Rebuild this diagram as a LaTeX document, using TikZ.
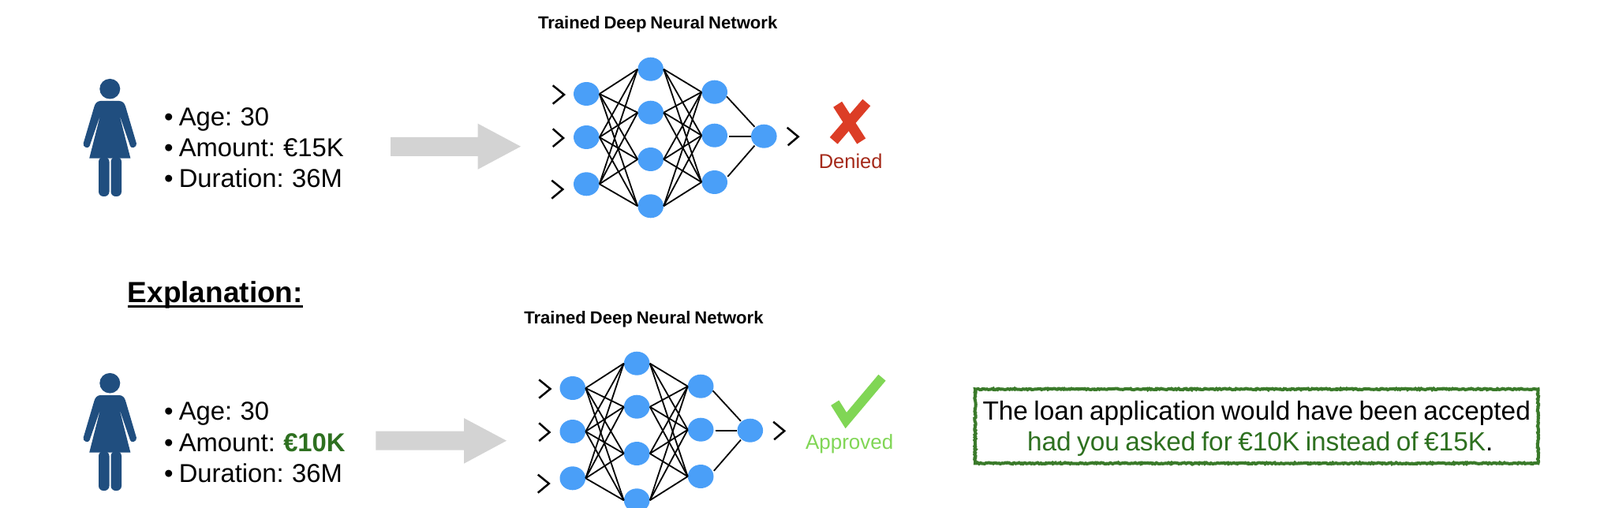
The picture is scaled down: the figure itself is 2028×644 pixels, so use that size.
\documentclass[tikz,border=0pt]{standalone}
\usepackage{fontspec}
\setmainfont[WordSpace=0.8]{Liberation Sans}
\usetikzlibrary{shapes.geometric,decorations.pathmorphing}
\definecolor{netblue}{HTML}{4A9FF8}
\definecolor{personblue}{HTML}{204E7F}
\definecolor{arrowgrey}{HTML}{D3D3D3}
\definecolor{crossred}{HTML}{DC3D26}
\definecolor{deniedred}{HTML}{A52A1A}
\definecolor{tickgreen}{HTML}{80D655}
\definecolor{darkgreen}{HTML}{2E7020}
\definecolor{boxgreen}{HTML}{3A7A2A}
\newcommand{\fsz}[1]{\fontsize{#1}{#1}\selectfont}
\tikzset{
  neuron/.style={ellipse,fill=netblue,inner sep=0pt,minimum width=32.6pt,minimum height=30pt},
  syn/.style={black,line width=1.8pt},
  chev/.style={black,line width=2.5pt,miter limit=10},
  txt/.style={anchor=base west,inner sep=0pt,outer sep=0pt},
  nettitle/.style={txt,font=\fsz{22.1}\bfseries},
  factline/.style={txt,font=\fsz{32.8}},
  bigarrow/.style={fill=arrowgrey,draw=none},
  person/.pic={
    \fill[personblue] (139.3,112.7) ellipse [x radius=13pt,y radius=12.8pt];
    \fill[personblue] (127.4,128) -- (151.2,128) .. controls (155,128) and (158,131) .. (159.1,135)
      -- (172.9,181.7) .. controls (174,187) and (166,189) .. (165,185)
      -- (151.2,145) -- (165.4,200.7) -- (113.2,200.7) -- (127.4,145) -- (113.6,185)
      .. controls (112.5,189) and (104.5,187) .. (105.7,181.7)
      -- (119.5,135) .. controls (120.6,131) and (123.6,128) .. (127.4,128) -- cycle;
    \fill[personblue,rounded corners=6pt] (125,199) -- (138.5,199) -- (138.5,249) -- (125,249) -- cycle;
    \fill[personblue,rounded corners=6pt] (140.5,199) -- (154,199) -- (154,249) -- (140.5,249) -- cycle;
  }
}
\newcommand{\drawnet}[1]{%
  \node[neuron] (#1a1) at (743.3,119) {};
  \node[neuron] (#1a2) at (743.3,174) {};
  \node[neuron] (#1a3) at (743.3,233.3) {};
  \node[neuron] (#1b1) at (824.7,87.7) {};
  \node[neuron] (#1b2) at (824.7,142.7) {};
  \node[neuron] (#1b3) at (824.7,202) {};
  \node[neuron] (#1b4) at (824.7,261.3) {};
  \node[neuron] (#1c1) at (905.7,116.7) {};
  \node[neuron] (#1c2) at (905.7,171.7) {};
  \node[neuron] (#1c3) at (905.7,231) {};
  \node[neuron] (#1d) at (968.3,172.7) {};
  \foreach \i in {1,2,3}{\foreach \j in {1,2,3,4}{
    \draw[syn] (#1a\i.east) -- (#1b\j.west);
    \draw[syn] (#1b\j.east) -- (#1c\i.west);
  }}
  \draw[syn,shorten >=1pt] (#1c1.-20) -- (#1d.135);
  \draw[syn,shorten <=2pt,yshift=1pt] (#1c2.east |- #1d.west) -- (#1d.west);
  \draw[syn,shorten >=1pt,shorten <=2pt] (#1c3.20) -- (#1d.-135);
  \draw[chev] (700.7,108.3) -- (715,120) -- (700.7,131.7);
  \draw[chev] (700.7,163.3) -- (714,175) -- (700.7,186);
  \draw[chev] (699.3,228.7) -- (713.3,240) -- (699.3,251.7);
  \draw[chev] (997.7,161.7) -- (1011.7,173.3) -- (998.7,184.3);
}
\begin{document}
\begin{tikzpicture}[x=1pt,y=-1pt]
\useasboundingbox (0,0) rectangle (2028,644);
\clip (0,0) rectangle (2028,644);
\fill[white] (0,0) rectangle (2028,644);

% top row
\pic {person};
\node[factline] (age1) at (208,159.3) {• Age: 30};
\node[factline] (amount1) at (208,198.7) {• Amount: €15K};
\node[factline] (dur1) at (208,237.3) {• Duration: 36M};
\fill[bigarrow] (495,174) -- (605.7,174) -- (605.7,156.7) -- (660,185.7) -- (605.7,214.7) -- (605.7,198) -- (495,198) -- cycle;
\node[nettitle] (title1) at (682,36.7) {Trained Deep Neural Network};
\drawnet{p}
\draw[crossred,line width=13pt] (1061.7,132.3) -- (1091.7,179);
\draw[crossred,line width=13pt] (1098.3,130) -- (1056.7,178.3);
\node[txt,font=\fsz{25.5},text=deniedred] (denied) at (1037.8,213.3) {Denied};

% explanation
\node[txt,font=\fsz{37}\bfseries] (expl) at (161.8,383.3) {Explanation:};
\draw[black,line width=3pt] (161.8,388.7) -- (383.6,388.7);

% bottom row
\begin{scope}[shift={(0,373)}]
\pic {person};
\node[factline] (age2) at (208,159.3) {• Age: 30};
\node[factline] (amount2) at (208,199.7) {• Amount: \textcolor{darkgreen}{\bfseries €10K}};
\node[factline] (dur2) at (208,238.3) {• Duration: 36M};
\end{scope}
\fill[bigarrow] (476.4,546.7) -- (588,546.7) -- (588,530) -- (642,558.7) -- (588,587.7) -- (588,570.7) -- (476.4,570.7) -- cycle;
\node[nettitle] (title2) at (664.3,410) {Trained Deep Neural Network};
\begin{scope}[shift={(-17.5,373)}]
\drawnet{q}
\end{scope}
\draw[tickgreen,line width=12pt] (1058.3,510.7) -- (1072.3,533) -- (1118,478.7);
\node[txt,font=\fsz{26},text=tickgreen] (approved) at (1021,569.3) {Approved};

% statement box
\draw[boxgreen,line width=4pt,decorate,decoration={random steps,segment length=1.6pt,amplitude=0.8pt}]
  (1236,493.3) rectangle (1949.5,587.3);
\node[txt,font=\fsz{33.4}] (line1) at (1245.5,532.3) {The loan application would have been accepted};
\node[txt,font=\fsz{33.4}] (line2) at (1302,571.7) {\textcolor{darkgreen}{had you asked for €10K instead of €15K}.};
\end{tikzpicture}
\end{document}
